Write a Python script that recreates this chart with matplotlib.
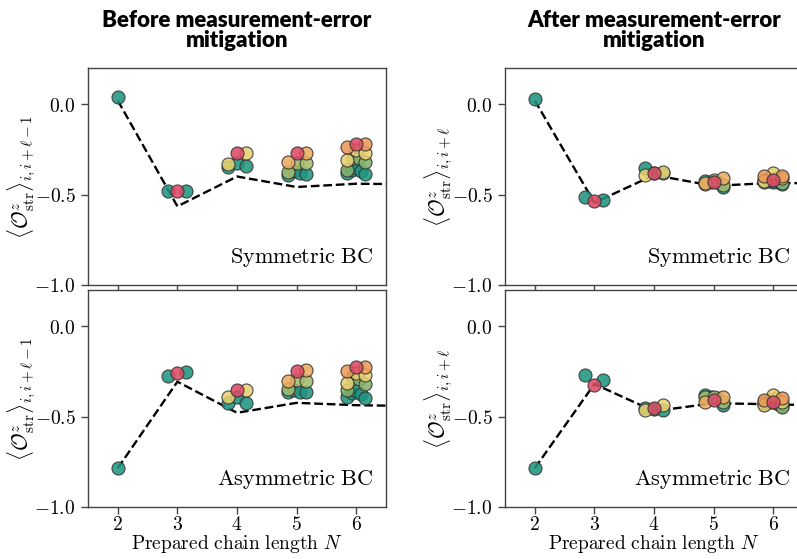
import numpy as np
import matplotlib.pyplot as plt
from matplotlib.colors import LinearSegmentedColormap
from matplotlib.ticker import FuncFormatter

plt.rcParams['mathtext.fontset'] = 'cm'

# prepared chain lengths and the theory curve (extends past the last N)
chain_lengths = [2, 3, 4, 5, 6]
theory_N = [2, 3, 4, 5, 6, 7]
theory_before_sym = [0.02, -0.565, -0.40, -0.458, -0.44, -0.443]
theory_before_asym = [-0.785, -0.307, -0.479, -0.424, -0.437, -0.442]
theory_after_sym = [0.02, -0.545, -0.392, -0.452, -0.435, -0.44]
theory_after_asym = [-0.785, -0.32, -0.47, -0.426, -0.432, -0.44]

# measured string order, grouped by N, then by separation d = 1 .. N-1
before_sym = [
    [[0.04]],
    [[-0.48, -0.48], [-0.48]],
    [[-0.346, -0.328, -0.341], [-0.333, -0.269], [-0.272]],
    [[-0.392, -0.367, -0.383, -0.387], [-0.374, -0.324, -0.328],
     [-0.322, -0.272], [-0.272]],
    [[-0.383, -0.362, -0.355, -0.372, -0.387], [-0.365, -0.30, -0.298, -0.318],
     [-0.309, -0.254, -0.269], [-0.239, -0.221], [-0.221]],
]
before_asym = [
    [[-0.783]],
    [[-0.276, -0.252], [-0.261]],
    [[-0.427, -0.39, -0.427], [-0.39, -0.354], [-0.354]],
    [[-0.363, -0.354, -0.366, -0.366], [-0.35, -0.298, -0.302],
     [-0.302, -0.243], [-0.249]],
    [[-0.39, -0.37, -0.36, -0.375, -0.396], [-0.354, -0.28, -0.29, -0.322],
     [-0.317, -0.26, -0.271], [-0.249, -0.225], [-0.225]],
]
after_sym = [
    [[0.03]],
    [[-0.514, -0.53], [-0.536]],
    [[-0.355, -0.38, -0.38], [-0.392, -0.374], [-0.383]],
    [[-0.424, -0.43, -0.43, -0.457], [-0.44, -0.42, -0.445],
     [-0.435, -0.41], [-0.429]],
    [[-0.42, -0.425, -0.43, -0.43, -0.44], [-0.43, -0.42, -0.41, -0.438],
     [-0.425, -0.383, -0.41], [-0.40, -0.40], [-0.42]],
]
after_asym = [
    [[-0.785]],
    [[-0.271, -0.298], [-0.326]],
    [[-0.45, -0.46, -0.464], [-0.464, -0.436], [-0.455]],
    [[-0.381, -0.39, -0.40, -0.436], [-0.39, -0.39, -0.42],
     [-0.418, -0.39], [-0.409]],
    [[-0.43, -0.42, -0.42, -0.43, -0.44], [-0.42, -0.41, -0.40, -0.446],
     [-0.436, -0.381, -0.42], [-0.409, -0.40], [-0.418]],
]

cmap = LinearSegmentedColormap.from_list(
    'sep', ['#1f9580', '#84b26b', '#e8d06f', '#ec9a57', '#dc4b64'])

W, H = 797, 559
fig = plt.figure(figsize=(W / 100, H / 100), dpi=100)


def add_axes(x0, top, w, h):
    return fig.add_axes([x0 / W, 1 - (top + h) / H, w / W, h / H])


def draw_panel(ax, groups, theory, text, ylabel, show_x):
    ax.plot(theory_N, theory, '--', color='k', lw=1.7, zorder=1)
    for N, by_sep in zip(chain_lengths, groups):
        for d, ys in enumerate(by_sep, start=1):
            t = 0.0 if N == 2 else (d - 1) / (N - 2)
            if len(ys) > 1:
                xs = N + np.linspace(-0.15, 0.15, len(ys))
            else:
                xs = [N]
            ax.scatter(xs, ys, s=88, color=cmap(t), edgecolor='#333333',
                       linewidth=0.8, alpha=0.88, zorder=3)
    ax.set_xlim(1.5, 6.5)
    ax.set_ylim(-1.0, 0.2)
    ax.set_xticks(chain_lengths)
    ax.set_yticks([-1.0, -0.5, 0.0])
    ax.yaxis.set_major_formatter(FuncFormatter(lambda v, p: r'$%.1f$' % v))
    ax.xaxis.set_major_formatter(FuncFormatter(lambda v, p: r'$%d$' % v))
    ax.tick_params(labelsize=14, length=5, color='#444444', width=1.0)
    ax.tick_params(axis='y', pad=4)
    ax.tick_params(axis='x', pad=1)
    if not show_x:
        ax.tick_params(labelbottom=False)
    else:
        ax.set_xlabel(r'$\mathrm{Prepared\ chain\ length}\ N$', fontsize=14,
                      labelpad=-1)
    for sp in ax.spines.values():
        sp.set_color('#444444')
        sp.set_linewidth(1.0)
    ax.set_ylabel(ylabel, fontsize=15.5)
    ax.yaxis.set_label_coords(-0.172, 0.5)
    ax.text(0.957, 0.125, r'$\mathrm{%s}$' % text.replace(' ', r'\ '),
            transform=ax.transAxes, ha='right', va='center', fontsize=16)


lab_left = r'$\langle \mathcal{O}^z_{\mathrm{str}} \rangle_{i,i+\ell-1}$'
lab_right = r'$\langle \mathcal{O}^z_{\mathrm{str}} \rangle_{i,i+\ell}$'

ax1 = add_axes(88, 68, 298, 217)
ax2 = add_axes(88, 290, 298, 217)
ax3 = add_axes(505, 68, 298, 217)
ax4 = add_axes(505, 290, 298, 217)

draw_panel(ax1, before_sym, theory_before_sym, 'Symmetric BC', lab_left, False)
draw_panel(ax2, before_asym, theory_before_asym, 'Asymmetric BC', lab_left, True)
draw_panel(ax3, after_sym, theory_after_sym, 'Symmetric BC', lab_right, False)
draw_panel(ax4, after_asym, theory_after_asym, 'Asymmetric BC', lab_right, True)

title_kw = dict(ha='center', va='top', fontsize=16, fontweight='heavy',
                family='Lato', linespacing=0.95)
fig.text((88 + 149) / W, 1 - 10 / H, 'Before measurement-error\nmitigation',
         **title_kw)
fig.text((505 + 149) / W, 1 - 10 / H, 'After measurement-error\nmitigation',
         **title_kw)

fig.savefig('out.png', dpi=100)
